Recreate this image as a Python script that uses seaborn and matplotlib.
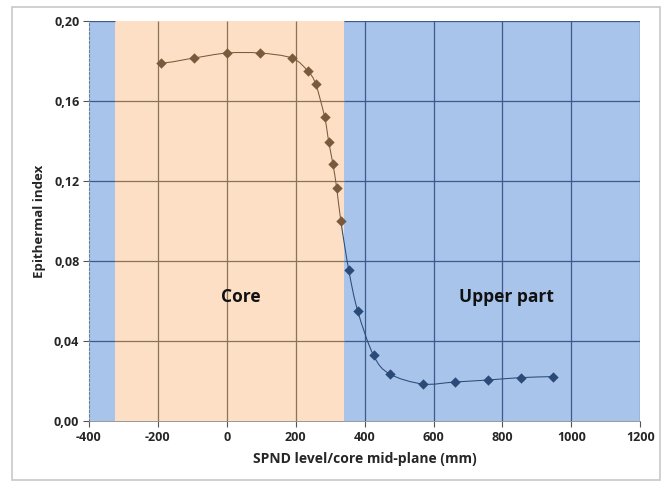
import numpy as np
import pandas as pd
import matplotlib
matplotlib.use('Agg')
import matplotlib.pyplot as plt
import seaborn as sns
from matplotlib.path import Path
from matplotlib.patches import PathPatch, Rectangle

# 데이터
core_x = [-192, -96, 0, 96, 189, 235, 258, 284, 296, 308, 319, 331]
core_y = [0.179, 0.1815, 0.184, 0.184, 0.1815, 0.175, 0.1685, 0.152, 0.1395, 0.1285, 0.1165, 0.100]
upper_x = [354, 380, 426, 473, 569, 662, 759, 854, 947]
upper_y = [0.0755, 0.055, 0.0328, 0.0235, 0.0185, 0.0195, 0.0205, 0.0217, 0.0222]

core_span = (-325, 340)
x_ticks = [-400, -200, 0, 200, 400, 600, 800, 1000, 1200]
y_ticks = [0.00, 0.04, 0.08, 0.12, 0.16, 0.20]

BLUE_BG = '#A9C4EA'
PEACH_BG = '#FCDFC5'
BROWN = '#7A5A3C'
NAVY = '#2A4A78'
GRID_BROWN = '#8C7258'
GRID_BLUE = '#3B5B8C'

sns.set_style('white')
plt.rcParams['font.family'] = ['Open Sans', 'DejaVu Sans']

df_core = pd.DataFrame({'x': core_x, 'y': core_y})
df_upper = pd.DataFrame({'x': upper_x, 'y': upper_y})


def smooth_path(xs, ys):
    # 엑셀식 부드러운 선 (Catmull-Rom -> Bezier)
    pts = np.column_stack([xs, ys])
    n = len(pts)
    verts = [pts[0]]
    codes = [Path.MOVETO]
    for i in range(n - 1):
        p1 = pts[i]
        p2 = pts[i + 1]
        # 끝점은 반사점 사용
        p0 = pts[i - 1] if i > 0 else 2 * p1 - p2 + np.array([0, 0.004])
        p3 = pts[i + 2] if i + 2 < n else 2 * p2 - p1
        c1 = p1 + (p2 - p0) / 6.0
        c2 = p2 - (p3 - p1) / 6.0
        verts += [c1, c2, p2]
        codes += [Path.CURVE4] * 3
    return Path(verts, codes)


fig = plt.figure(figsize=(6.69, 4.83), dpi=100, facecolor='white')
ax = fig.add_axes([0.133, 0.1284, 0.824, 0.828])
ax.set_xlim(-400, 1200)
ax.set_ylim(0, 0.20)

# 배경 영역
ax.axvspan(-400, core_span[0], color=BLUE_BG, lw=0, zorder=0)
ax.axvspan(core_span[0], core_span[1], color=PEACH_BG, lw=0, zorder=0)
ax.axvspan(core_span[1], 1200, color=BLUE_BG, lw=0, zorder=0)

# 격자선
for yv in y_ticks[1:]:
    ax.hlines(yv, -400, core_span[0], color=GRID_BLUE, lw=0.9, zorder=1)
    if yv < 0.20:
        ax.hlines(yv, core_span[0], core_span[1], color=GRID_BROWN, lw=0.9, zorder=1)
    ax.hlines(yv, core_span[1], 1200, color=GRID_BLUE, lw=0.9, zorder=1)
for xv in x_ticks[1:]:
    c = GRID_BROWN if core_span[0] < xv < core_span[1] else GRID_BLUE
    ax.vlines(xv, 0, 0.20, color=c, lw=0.9, zorder=1)

# 곡선
all_x = core_x + upper_x
all_y = core_y + upper_y
k = len(core_x)
full = smooth_path(all_x, all_y)
v = full.vertices
c = full.codes
brown_path = Path(v[:1 + 3 * (k - 1)], c[:1 + 3 * (k - 1)])
blue_v = v[3 * (k - 1):]
blue_c = np.concatenate([[Path.MOVETO], c[3 * (k - 1) + 1:]])
blue_path = Path(blue_v, blue_c)
ax.add_patch(PathPatch(brown_path, fill=False, edgecolor=BROWN, lw=0.75, zorder=3))
ax.add_patch(PathPatch(blue_path, fill=False, edgecolor=NAVY, lw=0.75, zorder=3))

sns.scatterplot(data=df_core, x='x', y='y', marker='D', s=28, color=BROWN,
                edgecolor=BROWN, linewidth=0, ax=ax, zorder=4)
sns.scatterplot(data=df_upper, x='x', y='y', marker='D', s=28, color=NAVY,
                edgecolor=NAVY, linewidth=0, ax=ax, zorder=4)

ax.text(40, 0.062, 'Core', ha='center', va='center', fontsize=12.5, fontweight='bold', color='#111111')
ax.text(813, 0.062, 'Upper part', ha='center', va='center', fontsize=12.5, fontweight='bold', color='#111111')

ax.set_xticks(x_ticks)
ax.set_yticks(y_ticks)
ax.set_xticklabels([str(t) for t in x_ticks])
ax.set_yticklabels([f'{t:.2f}'.replace('.', ',') for t in y_ticks])
ax.tick_params(axis='both', direction='out', length=4, width=0.8, color='#555555',
               labelsize=9, pad=3, bottom=True, left=True)
for lab in ax.get_xticklabels() + ax.get_yticklabels():
    lab.set_fontweight('bold')

ax.set_xlabel('SPND level/core mid-plane (mm)', fontsize=10, fontweight='bold', labelpad=6)
ax.set_ylabel('Epithermal index', fontsize=9.5, fontweight='bold', labelpad=6)

for s in ['top', 'right']:
    ax.spines[s].set_visible(False)
ax.spines['left'].set_color('#6A7D99')
ax.spines['left'].set_linestyle((0, (2, 2)))
ax.spines['left'].set_linewidth(0.8)
ax.spines['bottom'].set_color('#888888')
ax.spines['bottom'].set_linewidth(0.6)

# 바깥 테두리
fig.patches.append(Rectangle((0.018, 0.006), 0.968, 0.98, transform=fig.transFigure,
                             fill=False, edgecolor='#C8C8C8', lw=1.2))

fig.savefig('out.png', dpi=100)
